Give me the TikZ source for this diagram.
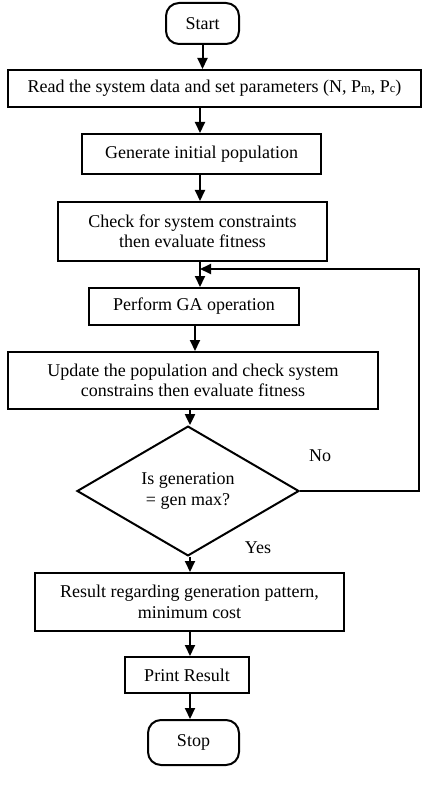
\documentclass[tikz,border=0pt]{standalone}
\usepackage{fontspec}
\setmainfont{Liberation Serif}
\usetikzlibrary{shapes.geometric,arrows.meta}
\tikzset{
  box/.style={draw, line width=2pt, rectangle, inner sep=0pt, align=center,
    font=\fontsize{18}{20.5}\selectfont},
  term/.style={box, rounded corners=13pt},
  dec/.style={draw, line width=2pt, diamond, inner sep=0pt, align=center,
    font=\fontsize{18}{20.5}\selectfont},
  arr/.style={line width=2pt, -{Triangle[width=10pt,length=11pt]}},
  lbl/.style={font=\fontsize{18}{20.5}\selectfont, inner sep=0pt},
}
\begin{document}
\begin{tikzpicture}[x=1pt,y=-1pt]
\useasboundingbox (0,0) rectangle (425,799);
\node[term, minimum width=73pt, minimum height=41pt] (start) at (202.5,23.5) {Start};
\node[box, minimum width=413pt, minimum height=37pt] (read) at (214.5,88.5)
  {Read the system data and set parameters (N, P{\fontsize{12.5}{14}\selectfont m}, P{\fontsize{12.5}{14}\selectfont c})};
\node[box, minimum width=239pt, minimum height=40pt] (gen) at (201.5,154) {Generate initial population};
\node[box, minimum width=269pt, minimum height=59pt] (check) at (192.5,231.5)
  {Check for system constraints\\then evaluate fitness};
\node[box, minimum width=210pt, minimum height=37pt] (ga) at (194,306.5) {Perform GA operation};
\node[box, minimum width=370pt, minimum height=57pt] (upd) at (193,380.5)
  {Update the population and check system\\constrains then evaluate fitness};
\node[dec, minimum width=222pt, minimum height=108pt] (isg) at (188,491)
  {Is generation\\= gen max?};
\node[box, minimum width=309pt, minimum height=58pt] (res) at (189.5,602)
  {Result regarding generation pattern,\\minimum cost};
\node[box, minimum width=124pt, minimum height=36pt] (prt) at (187,675) {Print Result};
\node[term, minimum width=91pt, minimum height=45pt] (stop) at (193.5,742.5) {Stop};
\node[lbl] (no) at (320,456) {No};
\node[lbl] (yes) at (258,548) {Yes};
\coordinate (x1) at (200,0);
\coordinate (x2) at (195,0);
\coordinate (x3) at (190,0);
\coordinate (lr) at (419,491);
\coordinate (lu) at (419,269);
\coordinate (lj) at (200,269);
\draw[arr] (start.south) -- (start.south |- read.north);
\draw[arr] (read.south -| x1) -- (gen.north -| x1);
\draw[arr] (gen.south -| x1) -- (check.north -| x1);
\draw[arr] (check.south -| x1) -- (ga.north -| x1);
\draw[arr] (ga.south -| x2) -- (upd.north -| x2);
\draw[arr] (upd.south -| x3) -- (isg.north -| x3);
\draw[arr] (isg.south -| x3) -- (res.north -| x3);
\draw[arr] (res.south -| x3) -- (prt.north -| x3);
\draw[arr] (prt.south -| x3) -- (stop.north -| x3);
\draw[arr] (isg.east) -- (lr) -- (lu) -- (lj);
\end{tikzpicture}
\end{document}
